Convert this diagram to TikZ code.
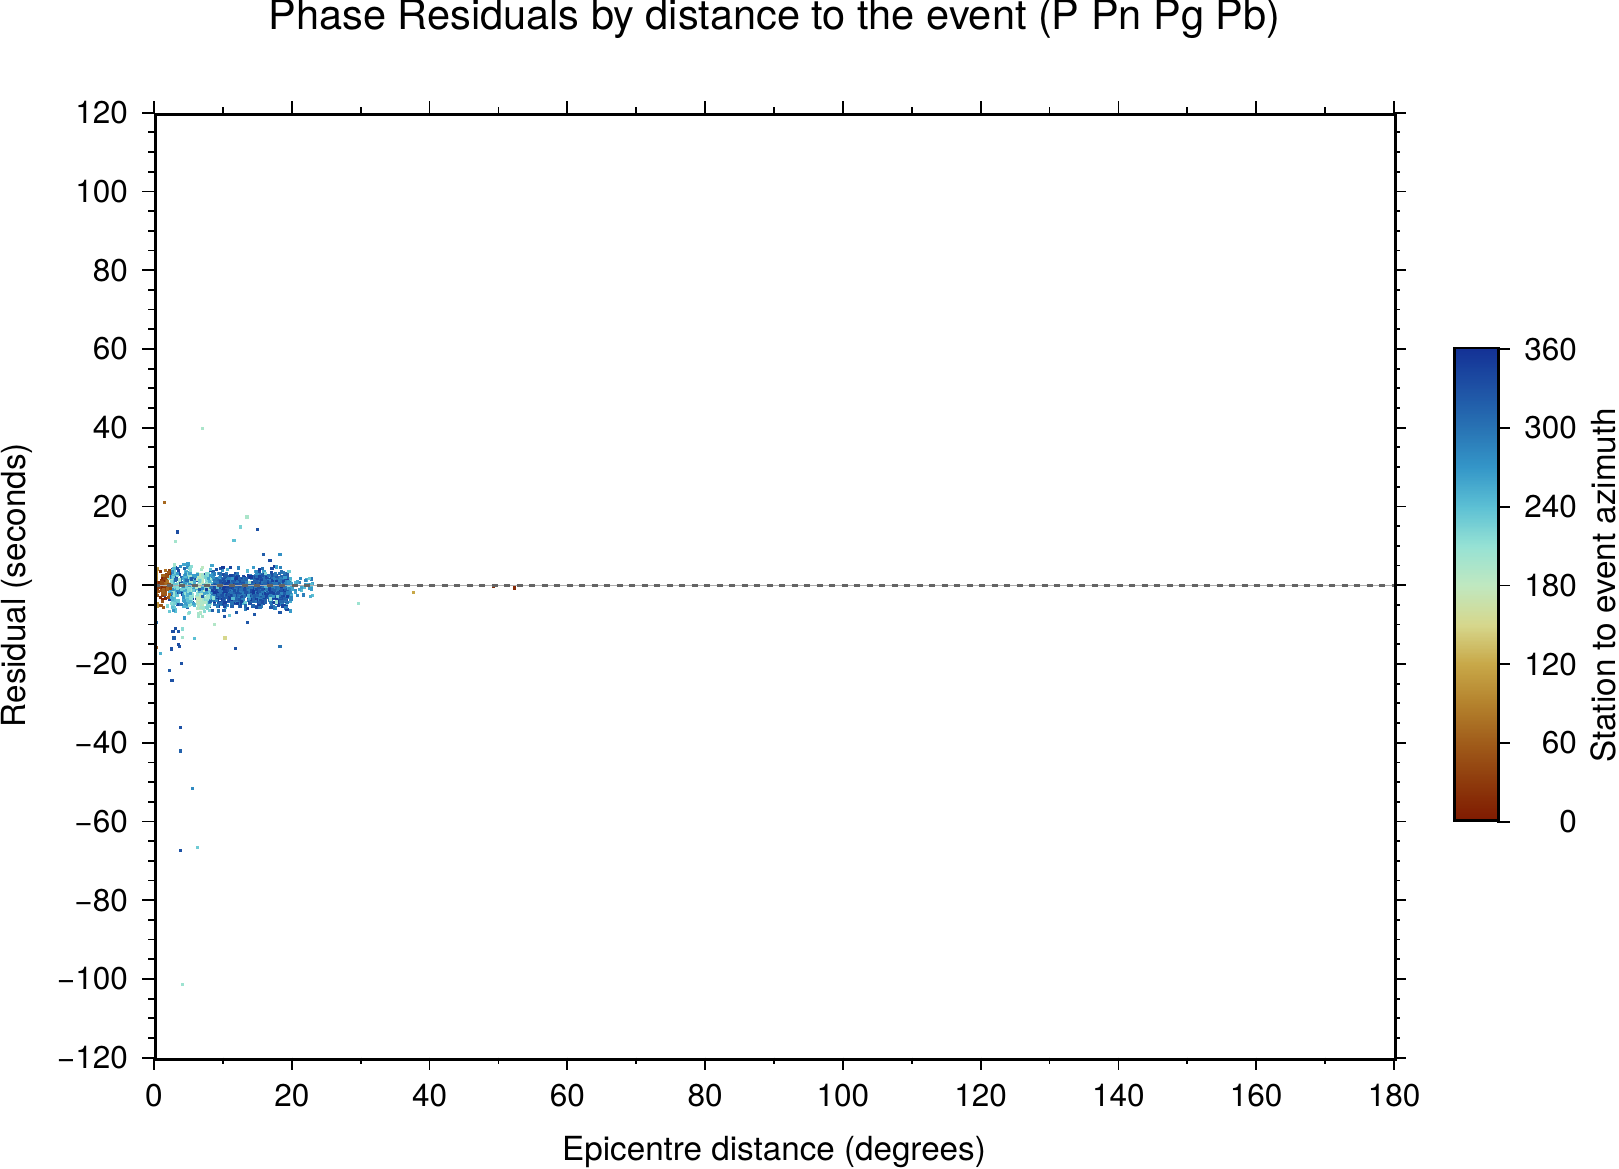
\documentclass[tikz,border=0pt]{standalone}
\usepackage{fontspec}
\setmainfont{TeX Gyre Heros}
\definecolor{rm0}{RGB}{126,25,0}
\definecolor{rm1}{RGB}{142,58,12}
\definecolor{rm2}{RGB}{160,92,26}
\definecolor{rm3}{RGB}{180,130,45}
\definecolor{rm4}{RGB}{200,168,72}
\definecolor{rm5}{RGB}{214,215,140}
\definecolor{rm6}{RGB}{192,232,192}
\definecolor{rm7}{RGB}{150,226,212}
\definecolor{rm8}{RGB}{92,192,212}
\definecolor{rm9}{RGB}{52,150,200}
\definecolor{rm10}{RGB}{40,115,180}
\definecolor{rm11}{RGB}{30,82,165}
\definecolor{rm12}{RGB}{20,50,150}
\definecolor{dashgray}{RGB}{100,100,100}
\definecolor{linegray}{RGB}{175,175,175}
\colorlet{ptc}{black}
\newcommand\azcolor[1]{%
  \pgfmathsetmacro\azv{max(0,min(359.9,#1))}%
  \pgfmathtruncatemacro\azk{\azv/30}%
  \pgfmathtruncatemacro\azn{\azk+1}%
  \pgfmathsetmacro\azp{100-(\azv-30*\azk)*10/3}%
  \colorlet{ptc}{rm\azk!\azp!rm\azn}}
\newcommand\dpt[3]{%
  \pgfmathsetmacro\dpx{154+(#1)*6.8889}%
  \pgfmathsetmacro\dpy{585.2-(#2)*3.9375}%
  \azcolor{#3}%
  \fill[ptc] (\dpx-1.6,\dpy-1.6) rectangle (\dpx+1.6,\dpy+1.6);}
\tikzset{
  frameline/.style={line width=2.8pt, black},
  tickline/.style={line width=1.8pt, black},
  annot/.style={font=\fontsize{31.5}{31.5}\selectfont, inner sep=0pt},
  axlab/.style={font=\fontsize{33.2}{33.2}\selectfont, inner sep=0pt},
  ttl/.style={font=\fontsize{41.5}{41.5}\selectfont, inner sep=0pt},
}
\begin{document}
\begin{tikzpicture}[x=1pt,y=-1pt]
\useasboundingbox (0,0) rectangle (1619,1168);
\pgfmathsetseed{20240}
% ---------- scatter ----------
\begin{scope}
\clip (154,112.7) rectangle (1394,1057.7);
% blue mixed on the left
\foreach \i in {1,...,120}{\dpt{1.5+7*rnd}{-1.2+2.5*(rand+rand+rand)}{290+60*rnd}}
% cyan / pale streaks
\foreach \i in {1,...,60}{\dpt{2.9+0.25*rand}{-1.2+2.6*(rand+rand+rand)}{225+25*rnd}}
\foreach \i in {1,...,90}{\dpt{4.6+0.35*rand}{-1.2+2.6*(rand+rand+rand)}{245+30*rnd}}
\foreach \i in {1,...,60}{\dpt{5.3+0.3*rand}{-1.2+2.6*(rand+rand+rand)}{195+30*rnd}}
\foreach \i in {1,...,110}{\dpt{6.7+0.45*rand}{-2+2.5*(rand+rand+rand)}{172+30*rnd}}
\foreach \i in {1,...,60}{\dpt{7.8+0.4*rand}{-1.5+2.4*(rand+rand+rand)}{195+35*rnd}}
\foreach \i in {1,...,100}{\dpt{2+8*rnd}{-1.2+2.4*(rand+rand+rand)}{185+95*rnd}}
% main body
\foreach \i in {1,...,160}{\dpt{8+12*rnd}{-1.2+2.2*(rand+rand+rand)}{240+50*rnd}}
\foreach \i in {1,...,950}{\dpt{8.5+11*rnd}{-1.2+2.2*(rand+rand+rand)}{285+70*rnd}}
% sparse wider scatter
\foreach \i in {1,...,70}{\dpt{2+18*rnd}{-1+3.4*(rand+rand+rand)}{200+150*rnd}}
% tail
\foreach \i in {1,...,40}{\dpt{19+4*rnd}{-0.5+1.3*(rand+rand+rand)}{240+60*rnd}}
% brown / red near zero
\foreach \i in {1,...,28}{\dpt{0.1+0.45*rnd}{-0.8+5*rand}{90+25*rnd}}
\foreach \i in {1,...,45}{\dpt{0.5+1.8*rnd}{-0.5+2.3*(rand+rand+rand)}{5+55*rnd}}
\foreach \i in {1,...,20}{\dpt{1+1.5*rnd}{-0.5+2.3*(rand+rand+rand)}{40+40*rnd}}
% outliers
\foreach \d/\r/\a in {7.0/39.9/195, 1.5/21.0/70, 13.5/17.3/195, 12.6/14.8/225,
  15.0/14.2/330, 3.4/13.5/335, 3.1/11.1/200, 11.6/11.4/240, 18.3/7.7/275,
  15.9/7.7/320, 22.6/1.7/230, 13.6/-9.4/325, 11.0/-7.6/230, 10.3/-13.4/150,
  11.8/-16.0/330, 18.3/-15.6/300, 8.8/-9.9/190, 5.9/-13.6/240, 4.0/-19.9/330,
  3.7/-15.5/330, 3.5/-15.0/335, 2.3/-21.6/320, 2.6/-24.2/330, 2.5/-16.2/330,
  2.75/-11.8/335, 3.1/-11.0/330, 3.5/-11.7/325, 2.9/-13.4/320, 4.1/-11.1/215,
  4.1/-13.2/200, 1.0/-17.3/250, 0.4/-15.8/60, 0.4/-9.5/300, 3.8/-36.2/330,
  3.8/-42.1/315, 5.6/-51.7/280, 3.9/-67.4/330, 6.3/-66.6/230, 4.1/-101.5/205,
  29.7/-4.6/205, 37.7/-1.9/120, 49.3/-0.2/20, 52.3/-0.7/15}
  {\dpt{\d}{\r}{\a}}
\end{scope}
% zero line
\coordinate (zl) at (154,585.2);
\coordinate (zr) at (1394,585.2);
\draw[linegray, line width=1pt] (zl) -- (zr);
\draw[dashgray, line width=3pt, dash pattern=on 6pt off 6.5pt] (zl) -- (zr);
% ---------- frame ----------
\node[draw, frameline, inner sep=0pt, minimum width=1240pt, minimum height=945pt, anchor=north west] (plotframe) at (154,112.7) {};
% x ticks
\foreach \v in {0,20,...,180}{
  \draw[tickline] (154+\v*6.8889,1057.7) -- (154+\v*6.8889,1069.7);
  \draw[tickline] (154+\v*6.8889,112.7) -- (154+\v*6.8889,100.7);
  \node[annot, anchor=base] (xl\v) at (154+\v*6.8889,1106) {\v};
}
\foreach \v in {10,30,...,170}{
  \draw[tickline] (154+\v*6.8889,1057.7) -- (154+\v*6.8889,1063.7);
  \draw[tickline] (154+\v*6.8889,112.7) -- (154+\v*6.8889,106.7);
}
% y ticks
\foreach \v in {-120,-100,...,120}{
  \draw[tickline] (154,585.2-\v*3.9375) -- (142,585.2-\v*3.9375);
  \draw[tickline] (1394,585.2-\v*3.9375) -- (1406,585.2-\v*3.9375);
}
\foreach \v in {-115,-110,...,115}{
  \draw[tickline] (154,585.2-\v*3.9375) -- (148,585.2-\v*3.9375);
  \draw[tickline] (1394,585.2-\v*3.9375) -- (1400,585.2-\v*3.9375);
}
\foreach \v/\t in {120/120,100/100,80/80,60/60,40/40,20/20,0/0,-20/−20,-40/−40,-60/−60,-80/−80,-100/−100,-120/−120}{
  \node[annot, anchor=east] (yl\v) at (128,585.2-\v*3.9375) {\t};
}
% labels
\node[ttl, anchor=base] (title) at (774.5,29.3) {Phase Residuals by distance to the event (P Pn Pg Pb)};
\node[axlab, anchor=base] (xlabel) at (774,1160) {Epicentre distance (degrees)};
\node[axlab, anchor=base, rotate=90] (ylabel) at (25,585.2) {Residual (seconds)};
% ---------- colour bar ----------
\foreach \a in {0,...,359}{
  \azcolor{\a+0.5}
  \fill[ptc] (1453,821.7-\a*1.31222+0.4) rectangle (1497,821.7-\a*1.31222-1.71222);
}
\node[draw, frameline, inner sep=0pt, minimum width=44pt, minimum height=472.4pt, anchor=south west] (cbar) at (1453,821.7) {};
\foreach \v in {0,60,...,360}{
  \draw[tickline] (1497,821.7-\v*1.31222) -- (1510,821.7-\v*1.31222);
  \node[annot, anchor=east] (cl\v) at (1577,821.7-\v*1.31222) {\v};
}
\node[axlab, anchor=base, rotate=90] (clabel) at (1615,585.5) {Station to event azimuth};
\end{tikzpicture}
\end{document}
